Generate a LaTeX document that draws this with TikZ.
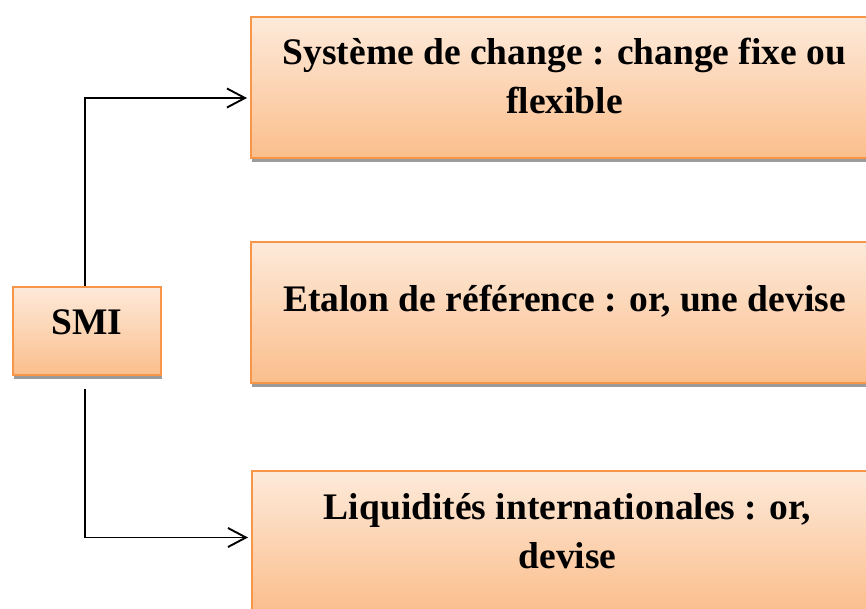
\documentclass[tikz,border=0pt]{standalone}
\usepackage{fontspec}
\setmainfont{Liberation Serif}
\usetikzlibrary{arrows.meta,shadows}
\definecolor{boxtop}{RGB}{253,234,218}
\definecolor{boxbot}{RGB}{251,190,140}
\definecolor{boxline}{RGB}{247,150,70}
\definecolor{shadowgray}{RGB}{155,155,155}
\tikzset{
  box/.style={rectangle, draw=boxline, line width=2pt, top color=boxtop, bottom color=boxbot,
    anchor=north west, inner sep=0pt,
    drop shadow={shadow xshift=1pt, shadow yshift=-4pt, fill=shadowgray, opacity=1}},
  txt/.style={inner sep=0pt, align=center, font=\fontsize{37.5}{49}\selectfont\bfseries},
  arr/.style={line width=1.9pt, -{Straight Barb[length=18pt,width=19pt,line width=1.9pt]}, shorten >=3pt}
}
\begin{document}
\begin{tikzpicture}[x=1pt,y=-1pt]
\useasboundingbox (0,0) rectangle (866,608);
\clip (0,0) rectangle (866,608);
\node[box, minimum width=148pt, minimum height=88pt] (smi) at (12,286) {};
\node[box, minimum width=627pt, minimum height=141pt] (b1) at (250,16) {};
\node[box, minimum width=627pt, minimum height=141pt] (b2) at (250,241) {};
\node[box, minimum width=627pt, minimum height=141pt] (b3) at (251,470) {};
\node[txt, anchor=base] (tsmi) at ([yshift=-48pt]smi.north) {SMI};
\node[txt, anchor=base] (t1) at ([yshift=-97pt]b1.north) {Système de change : change fixe ou\\flexible};
\node[txt, anchor=base] (t2) at ([yshift=-70pt]b2.north) {Etalon de référence : or, une devise};
\node[txt, anchor=base] (t3) at ([yshift=-98pt,xshift=2pt]b3.north) {Liquidités internationales : or,\\devise};
\draw[arr] ([xshift=-2pt]smi.north) |- ([yshift=-10.5pt]b1.west);
\draw[arr] ([xshift=-2pt,yshift=-13pt]smi.south) |- ([yshift=4pt]b3.west);
\end{tikzpicture}
\end{document}
